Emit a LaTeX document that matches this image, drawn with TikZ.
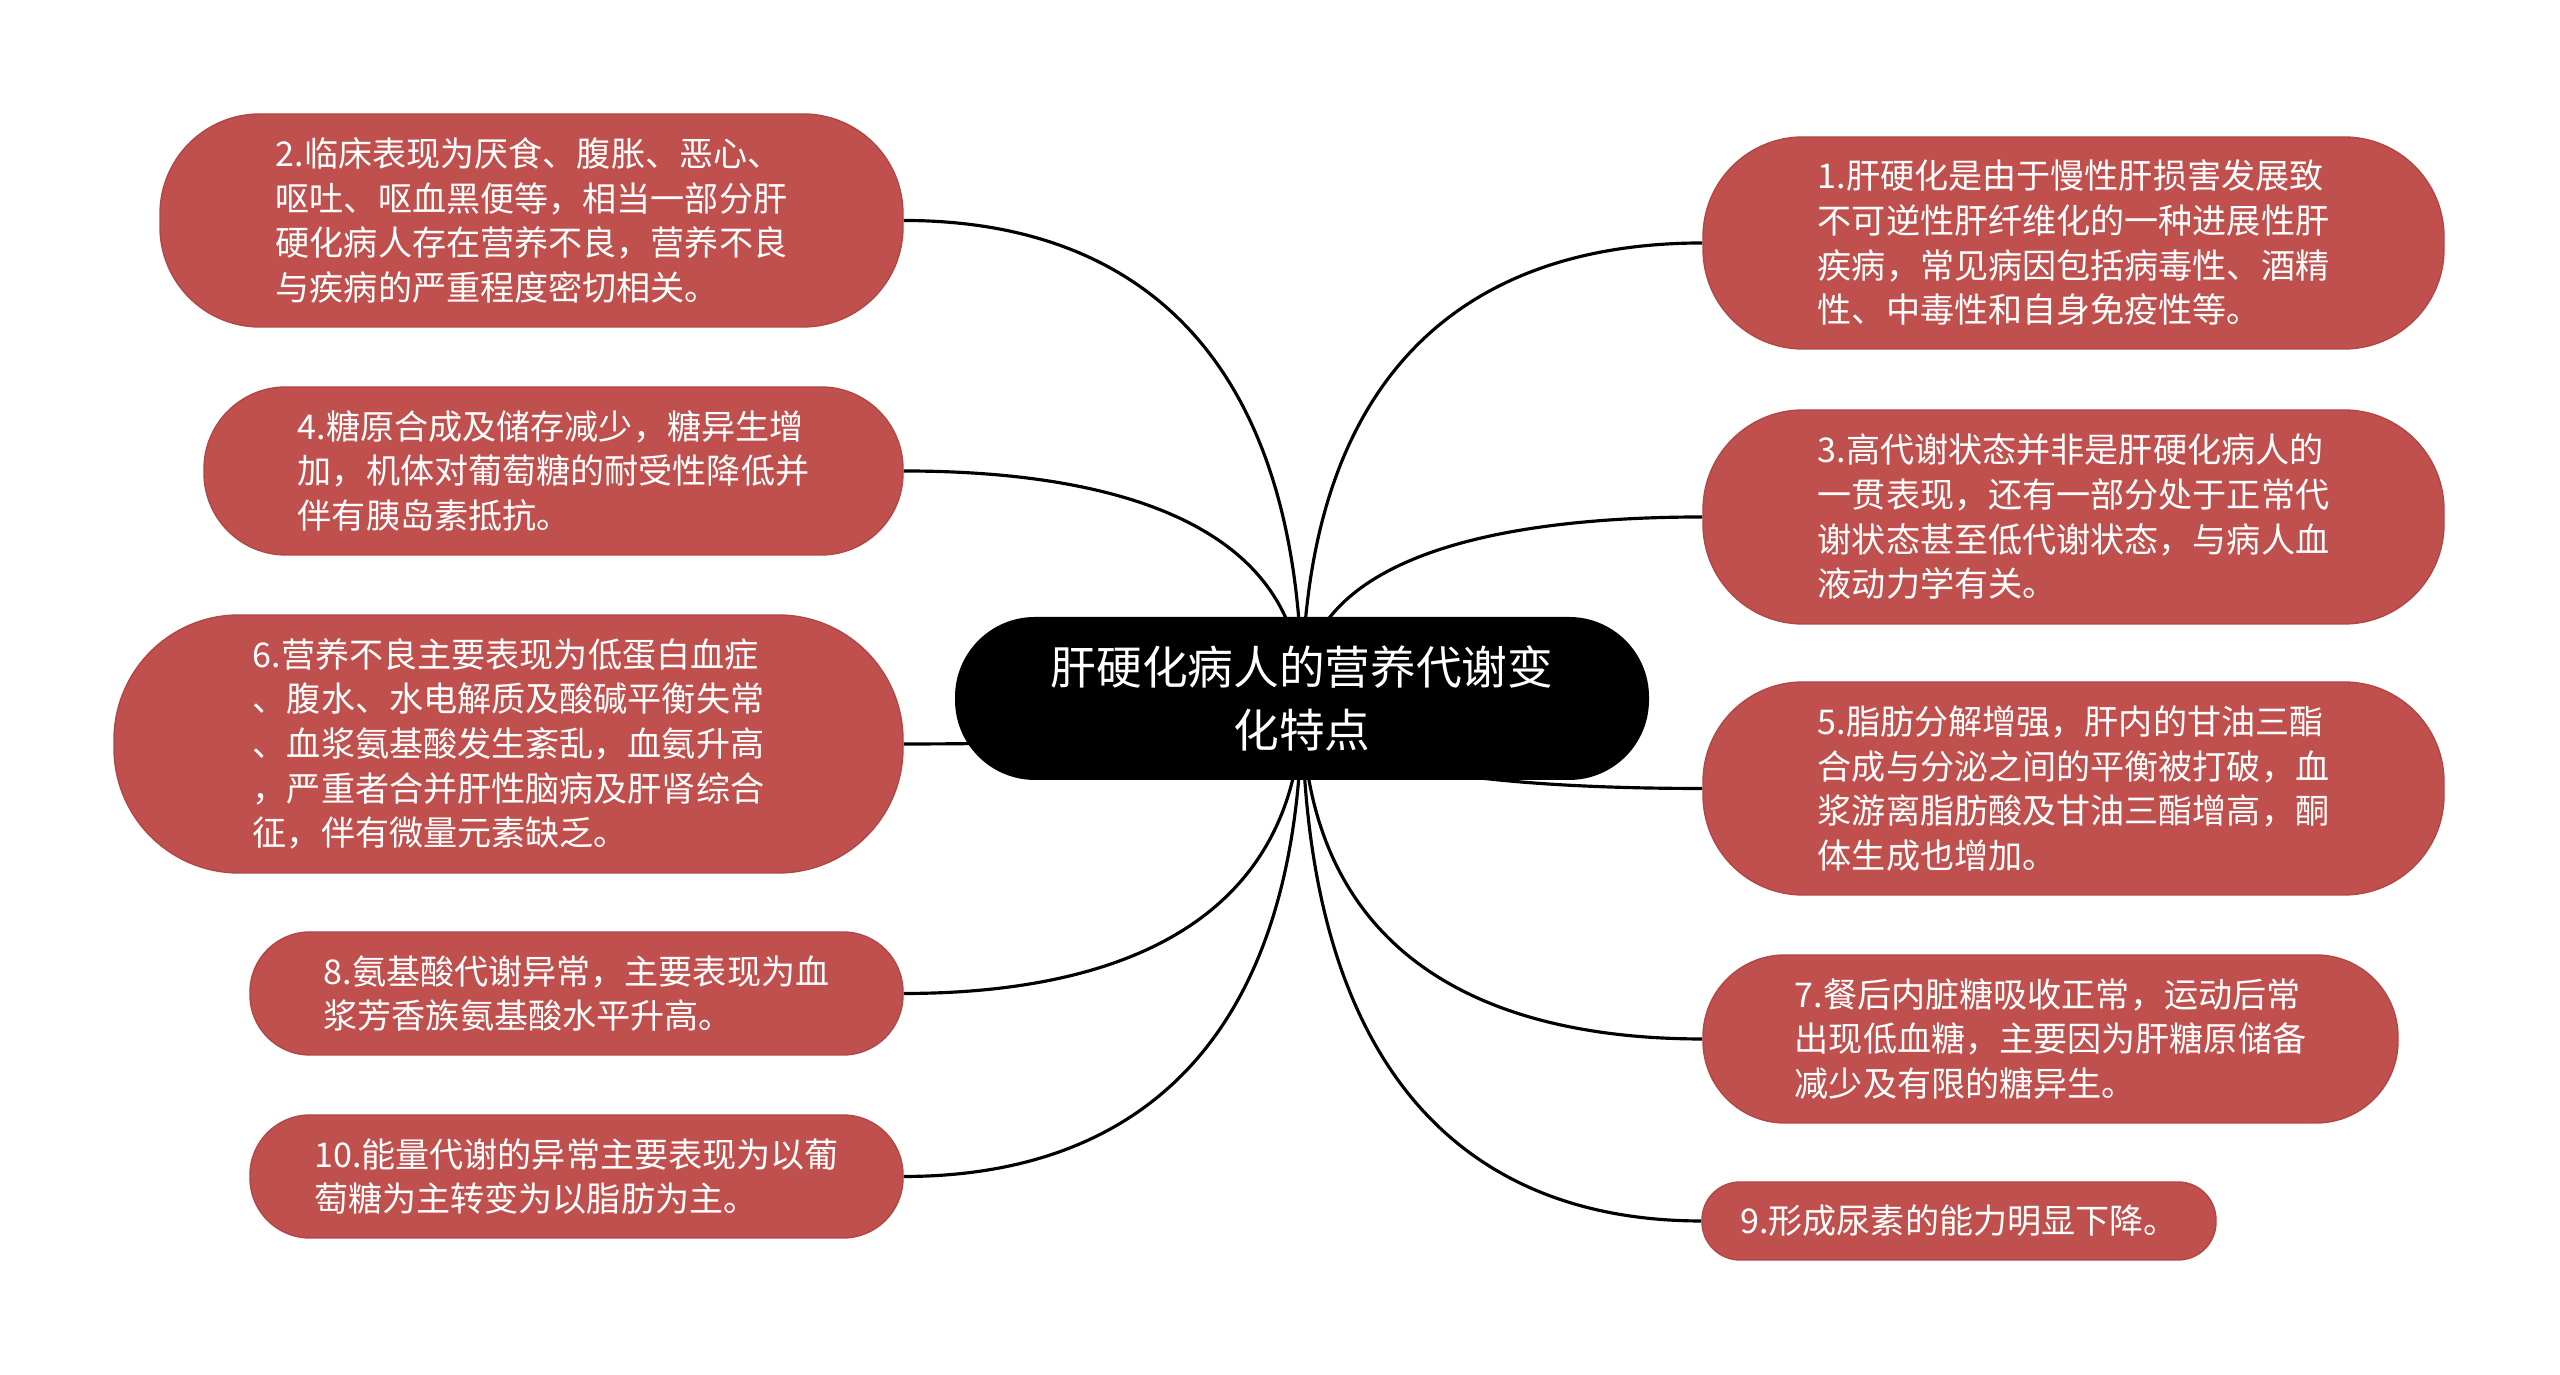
\documentclass[tikz,border=0pt]{standalone}
\usepackage{fontspec}
\newfontfamily\cjk{Noto Sans CJK SC}
\usetikzlibrary{calc, backgrounds}
\definecolor{topicred}{RGB}{192,80,77}
\definecolor{topicedge}{RGB}{178,70,68}

\tikzset{
  topic/.style={rectangle, fill=topicred, draw=topicedge, line width=0.4pt,
    text=white, align=left, inner sep=0pt,
    font=\cjk\fontsize{9.7}{12.7}\selectfont},
  hub/.style={rectangle, fill=black, text=white, align=center, inner sep=0pt,
    font=\cjk\fontsize{13}{18}\selectfont},
  branch/.style={draw=black, line width=0.9pt}
}

\begin{document}
\begin{tikzpicture}
  \useasboundingbox (0,0) rectangle (25.6,13.75);
  % Thème central
  \node[hub, minimum width=6.94cm, minimum height=1.63cm, rounded corners=0.8cm]
    (hub) at (13.02,6.765) {肝硬化病人的营养代谢变\\化特点};
  % Branches gauche
  \node[topic, minimum width=7.43cm, minimum height=2.13cm, rounded corners=1.0cm]
    (n2) at (5.315,11.545) {2.临床表现为厌食、腹胀、恶心、\\呕吐、呕血黑便等，相当一部分肝\\硬化病人存在营养不良，营养不良\\与疾病的严重程度密切相关。};
  \node[topic, minimum width=6.99cm, minimum height=1.68cm, rounded corners=0.82cm]
    (n4) at (5.535,9.04) {4.糖原合成及储存减少，糖异生增\\加，机体对葡萄糖的耐受性降低并\\伴有胰岛素抵抗。};
  \node[topic, minimum width=7.89cm, minimum height=2.58cm, rounded corners=1.25cm]
    (n6) at (5.085,6.31) {6.营养不良主要表现为低蛋白血症\\、腹水、水电解质及酸碱平衡失常\\、血浆氨基酸发生紊乱，血氨升高\\，严重者合并肝性脑病及肝肾综合\\征，伴有微量元素缺乏。};
  \node[topic, minimum width=6.53cm, minimum height=1.23cm, rounded corners=0.6cm]
    (n8) at (5.765,3.815) {8.氨基酸代谢异常，主要表现为血\\浆芳香族氨基酸水平升高。};
  \node[topic, minimum width=6.53cm, minimum height=1.23cm, rounded corners=0.6cm]
    (n10) at (5.765,1.985) {10.能量代谢的异常主要表现为以葡\\萄糖为主转变为以脂肪为主。};
  % Branches droite
  \node[topic, minimum width=7.41cm, minimum height=2.12cm, rounded corners=1.0cm]
    (n1) at (20.735,11.32) {1.肝硬化是由于慢性肝损害发展致\\不可逆性肝纤维化的一种进展性肝\\疾病，常见病因包括病毒性、酒精\\性、中毒性和自身免疫性等。};
  \node[topic, minimum width=7.41cm, minimum height=2.14cm, rounded corners=1.0cm]
    (n3) at (20.735,8.58) {3.高代谢状态并非是肝硬化病人的\\一贯表现，还有一部分处于正常代\\谢状态甚至低代谢状态，与病人血\\液动力学有关。};
  \node[topic, minimum width=7.41cm, minimum height=2.13cm, rounded corners=1.0cm]
    (n5) at (20.735,5.865) {5.脂肪分解增强，肝内的甘油三酯\\合成与分泌之间的平衡被打破，血\\浆游离脂肪酸及甘油三酯增高，酮\\体生成也增加。};
  \node[topic, minimum width=6.95cm, minimum height=1.68cm, rounded corners=0.82cm]
    (n7) at (20.505,3.36) {7.餐后内脏糖吸收正常，运动后常\\出现低血糖，主要因为肝糖原储备\\减少及有限的糖异生。};
  \node[topic, minimum width=5.14cm, minimum height=0.78cm, rounded corners=0.38cm]
    (n9) at (19.59,1.54) {9.形成尿素的能力明显下降。};
  % Liens
  \begin{scope}[on background layer]
    \foreach \tgt/\side in {n2/east, n4/east, n6/east, n8/east, n10/east,
                            n1/west, n3/west, n5/west, n7/west, n9/west}
      \draw[branch] let \p1=(hub.center), \p2=(\tgt.\side) in
        (\p1) .. controls (\x1,{\y1+0.75*(\y2-\y1)}) and ({\x1+0.45*(\x2-\x1)},\y2) .. (\p2);
  \end{scope}
\end{tikzpicture}
\end{document}
